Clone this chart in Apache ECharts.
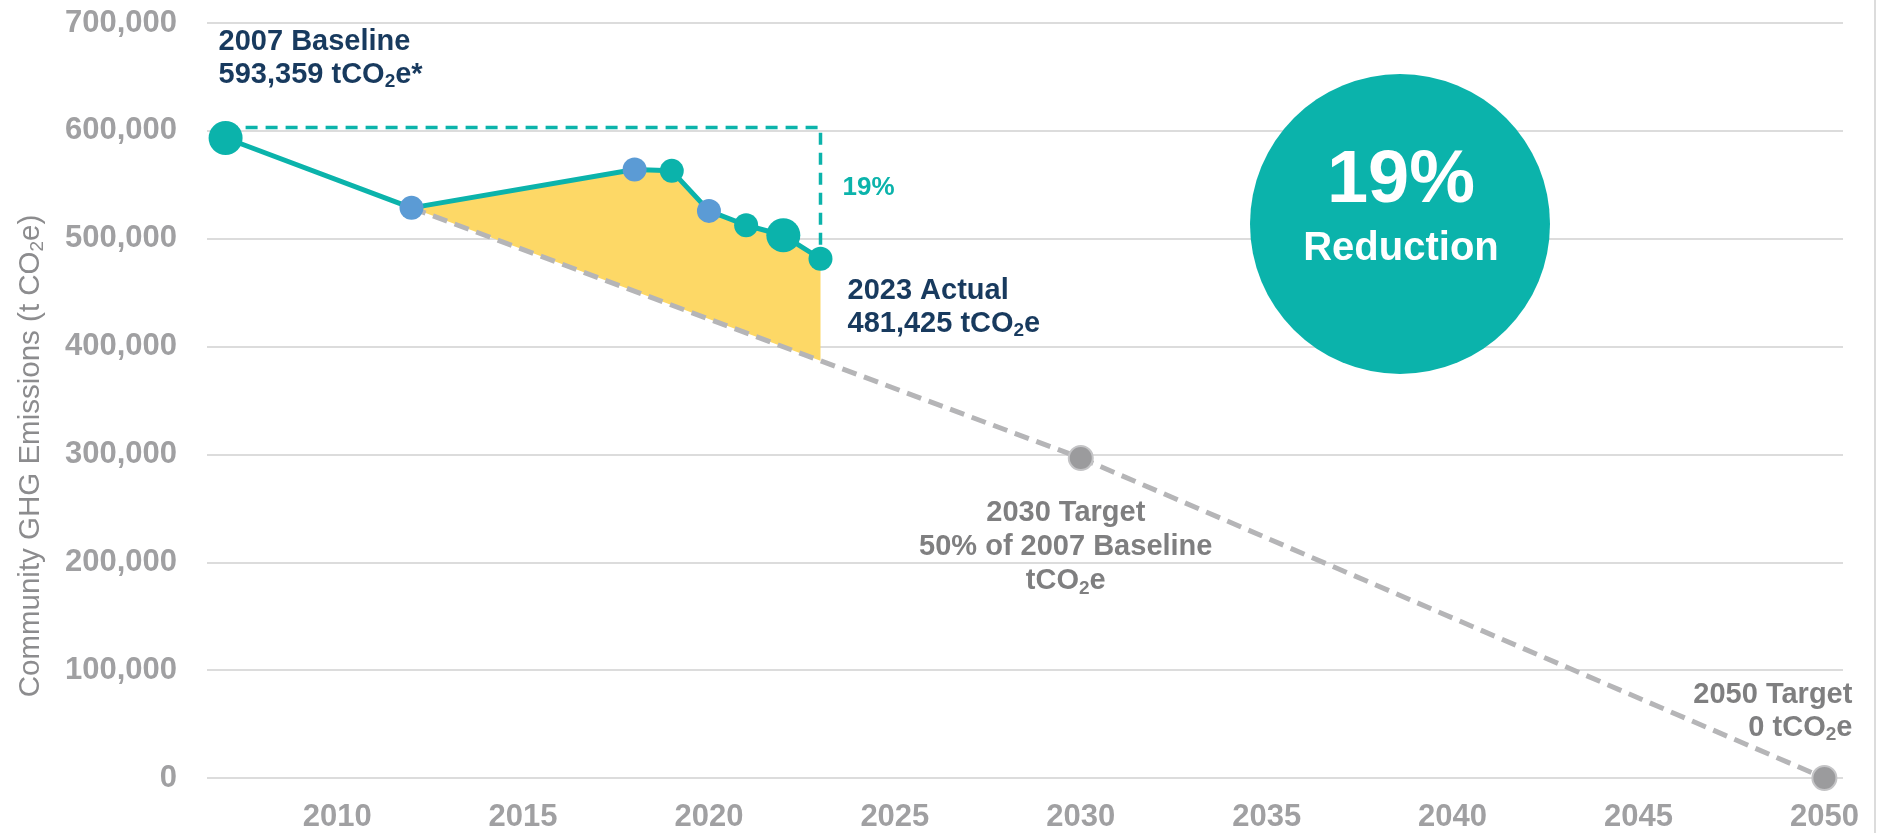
<!DOCTYPE html>
<html>
<head>
<meta charset="utf-8">
<script src="https://cdn.jsdelivr.net/npm/echarts@6/dist/echarts.min.js"></script>
<style>
html,body{margin:0;padding:0;background:#fff;}
#chart{width:1885px;height:833px;}
</style>
</head>
<body>
<div id="chart"></div>
<script>
// ---- data ----
const actualYears = [2007, 2012, 2018, 2019, 2020, 2021, 2022, 2023];
const actualValues = [593359, 528600, 564100, 562900, 525800, 512500, 503200, 481425];
const blueYears = [2012, 2018, 2020];
const largeYears = [2007, 2022];
const targetYears = [2012, 2030, 2050];
const targetValues = [528600, 296680, 0];
const baselineGuide = 603000;
const xTickLabels = [2010, 2015, 2020, 2025, 2030, 2035, 2040, 2045, 2050];
const reductionText = '19%';

// ---- styles ----
const TEAL = '#0BB3AB', BLUE = '#5B9BD5', YELLOW = '#FDD866', GRAY_LINE = '#B5B5B7',
      GRAY_PT = '#9B9B9D', NAVY = '#183A5E', GRAY_TXT = '#7F7F80', TICK = '#A0A0A2';
const FONT = "'Liberation Sans', Arial, sans-serif";

const chart = echarts.init(document.getElementById('chart'));

const fillStartIdx = actualYears.indexOf(targetYears[0]);
function targetAt(x) {
  for (let i = 0; i < targetYears.length - 1; i++) {
    if (x >= targetYears[i] && x <= targetYears[i + 1]) {
      const t = (x - targetYears[i]) / (targetYears[i + 1] - targetYears[i]);
      return targetValues[i] + t * (targetValues[i + 1] - targetValues[i]);
    }
  }
  return null;
}
const lastYear = actualYears[actualYears.length - 1];
const lastVal = actualValues[actualValues.length - 1];

chart.setOption({
  animation: false,
  backgroundColor: '#fff',
  grid: { left: 207, right: 42, top: 23, bottom: 54, containLabel: false },
  xAxis: {
    type: 'value', min: 2006.5, max: 2050.5,
    axisLine: { show: false }, axisTick: { show: false }, splitLine: { show: false },
    axisLabel: {
      customValues: xTickLabels, margin: 24,
      fontSize: 31, fontWeight: 'bold', color: TICK, fontFamily: FONT,
      formatter: v => String(v)
    }
  },
  yAxis: {
    type: 'value', min: 0, max: 700000, interval: 100000,
    axisLine: { show: false }, axisTick: { show: false },
    splitLine: { lineStyle: { color: '#DCDCDC', width: 2 } },
    axisLabel: {
      margin: 30, fontSize: 31, fontWeight: 'bold', color: TICK, fontFamily: FONT,
      formatter: v => v.toLocaleString('en-US')
    }
  },
  series: [
    {
      type: 'custom', coordinateSystem: 'cartesian2d', silent: true, z: 1,
      data: [[actualYears[fillStartIdx], actualValues[fillStartIdx]]],
      renderItem: (params, api) => {
        const pts = [];
        for (let i = fillStartIdx; i < actualYears.length; i++) pts.push(api.coord([actualYears[i], actualValues[i]]));
        pts.push(api.coord([lastYear, targetAt(lastYear)]));
        pts.push(api.coord([targetYears[0], targetValues[0]]));
        return { type: 'polygon', shape: { points: pts }, style: { fill: YELLOW } };
      }
    },
    {
      type: 'line', z: 2, silent: true,
      data: targetYears.map((y, i) => [y, targetValues[i]]),
      lineStyle: { color: GRAY_LINE, width: 5, type: [15, 8] },
      symbol: 'circle',
      symbolSize: (v, p) => p.dataIndex === 0 ? 0 : 24,
      itemStyle: { color: GRAY_PT, borderColor: '#C4C4C6', borderWidth: 2 }
    },
    {
      type: 'line', z: 3, silent: true,
      data: [[actualYears[0], baselineGuide], [lastYear, baselineGuide], [lastYear, lastVal]],
      lineStyle: { color: TEAL, width: 3.5, type: [12, 8] },
      symbol: 'none'
    },
    {
      type: 'line', z: 4, silent: true,
      data: actualYears.map((y, i) => ({
        value: [y, actualValues[i]],
        itemStyle: { color: blueYears.includes(y) ? BLUE : TEAL }
      })),
      lineStyle: { color: TEAL, width: 5 },
      symbol: 'circle',
      symbolSize: (v) => largeYears.includes(v[0]) ? 34 : 24,
      itemStyle: { color: TEAL, borderWidth: 0 }
    }
  ]
});

function px(x, y) { return chart.convertToPixel({ gridIndex: 0 }, [x, y]); }

function rich(color, size, align, weight, lh) {
  const base = { fontSize: size, fontWeight: weight || 'bold', fontFamily: FONT, fill: color, lineHeight: lh || size + 4, align: align };
  return {
    a: base,
    s: Object.assign({}, base, { fontSize: Math.round(size * 0.65), verticalAlign: 'bottom' })
  };
}

const pBase = px(actualYears[0], actualValues[0]);
const pAct = px(lastYear, lastVal);
const pGuide = px(lastYear, baselineGuide);
const p2030 = px(targetYears[1], targetValues[1]);
const p2050 = px(targetYears[2], targetValues[2]);

chart.setOption({
  graphic: [
    { type: 'line', shape: { x1: 1875, y1: 0, x2: 1875, y2: 833 }, style: { stroke: '#DCDCDC', lineWidth: 2 }, silent: true },
    {
      type: 'text', x: 31, y: 456, rotation: Math.PI / 2, silent: true,
      style: {
        text: '{a|Community GHG Emissions (t CO}{s|2}{a|e)}',
        align: 'center', verticalAlign: 'middle',
        rich: rich('#8C8C8E', 29.5, 'left', 'normal')
      }
    },
    {
      type: 'text', x: pBase[0] - 7, y: pBase[1] - 113, silent: true,
      style: {
        text: '{a|2007 Baseline}\n{a|' + actualValues[0].toLocaleString('en-US') + ' tCO}{s|2}{a|e*}',
        align: 'left', verticalAlign: 'top', rich: rich(NAVY, 29, 'left')
      }
    },
    {
      type: 'text', x: pAct[0] + 27, y: pAct[1] + 16, silent: true,
      style: {
        text: '{a|' + lastYear + ' Actual}\n{a|' + lastVal.toLocaleString('en-US') + ' tCO}{s|2}{a|e}',
        align: 'left', verticalAlign: 'top', rich: rich(NAVY, 29, 'left')
      }
    },
    {
      type: 'text', x: pGuide[0] + 22, y: pGuide[1] + 60, silent: true,
      style: { text: reductionText, fill: TEAL, fontSize: 26, fontWeight: 'bold', fontFamily: FONT, align: 'left', verticalAlign: 'middle' }
    },
    {
      type: 'text', x: p2030[0] - 15, y: p2030[1] + 38, silent: true,
      style: {
        text: '{a|2030 Target}\n{a|50% of 2007 Baseline}\n{a|tCO}{s|2}{a|e}',
        align: 'center', verticalAlign: 'top', rich: rich(GRAY_TXT, 29, 'center', 'bold', 34)
      }
    },
    {
      type: 'text', x: p2050[0] + 28, y: p2050[1] - 100, silent: true,
      style: {
        text: '{a|2050 Target}\n{a|0 tCO}{s|2}{a|e}',
        align: 'right', verticalAlign: 'top', rich: rich(GRAY_TXT, 29, 'right')
      }
    },
    { type: 'circle', shape: { cx: 1400, cy: 224, r: 150 }, style: { fill: TEAL }, silent: true, z: 10 },
    {
      type: 'text', x: 1401, y: 182, silent: true, z: 11,
      style: { text: reductionText, fill: '#fff', fontSize: 74, fontWeight: 'bold', fontFamily: FONT, align: 'center', verticalAlign: 'middle' }
    },
    {
      type: 'text', x: 1401, y: 249, silent: true, z: 11,
      style: { text: 'Reduction', fill: '#fff', fontSize: 40, fontWeight: 'bold', fontFamily: FONT, align: 'center', verticalAlign: 'middle' }
    }
  ]
});
</script>
</body>
</html>
